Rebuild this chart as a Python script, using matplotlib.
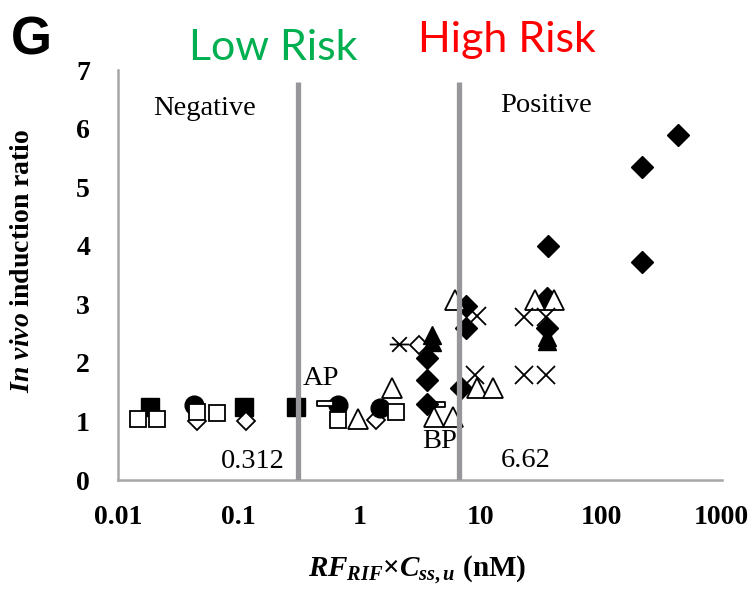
import matplotlib
matplotlib.use("Agg")
import matplotlib.pyplot as plt
from matplotlib.path import Path
from matplotlib.ticker import FixedLocator, FixedFormatter, NullLocator

plt.rcParams['font.family'] = 'Liberation Serif'
plt.rcParams['mathtext.fontset'] = 'custom'
plt.rcParams['mathtext.it'] = 'Liberation Serif:italic:bold'
plt.rcParams['mathtext.rm'] = 'Liberation Serif:bold'
plt.rcParams['mathtext.bf'] = 'Liberation Serif:bold'

# data: RF_RIF x Css,u (nM) vs in vivo induction ratio
open_sq_x = [0.0146, 0.021, 0.045, 0.066, 0.66, 2.02]
open_sq_y = [1.04, 1.04, 1.16, 1.14, 1.02, 1.16]

filled_sq_x = [0.0184, 0.11, 0.30]
filled_sq_y = [1.24, 1.24, 1.24]

filled_circ_x = [0.043, 0.66, 1.47]
filled_circ_y = [1.28, 1.28, 1.23]

open_dia_x = [0.045, 0.116, 1.38, 3.13]
open_dia_y = [1.0, 1.0, 1.02, 2.3]

open_tri_x = [0.98, 1.87, 4.17, 5.98, 6.2, 9.44, 12.8, 28.5, 40.9]
open_tri_y = [1.05, 1.57, 1.07, 1.07, 3.07, 1.58, 1.58, 3.07, 3.07]

filled_tri_x = [4.0, 4.0, 36.0, 36.0]
filled_tri_y = [2.47, 2.35, 2.45, 2.37]

filled_dia_x = [3.65, 3.65, 3.65, 7.65, 7.65, 7.0, 35.8, 36.0, 36.5, 218, 218, 433]
filled_dia_y = [2.09, 1.70, 1.30, 2.98, 2.60, 1.58, 3.10, 2.60, 4.0, 3.72, 5.35, 5.9]

cross_x = [9.4, 9.1, 23.1, 35.0, 23.1, 35.0]
cross_y = [2.80, 1.79, 2.79, 2.79, 1.79, 1.79]

star_x = [2.14]
star_y = [2.32]

dash_x = [0.52, 4.35]
dash_y = [1.31, 1.29]

cutoffs = [0.312, 6.62]
xticks = [0.01, 0.1, 1, 10, 100, 1000]
xtick_labels = ['0.01', '0.1', '1', '10', '100', '1000']
yticks = [0, 1, 2, 3, 4, 5, 6, 7]

star_marker = Path([(-1, 0), (1, 0), (-0.75, -0.75), (0.75, 0.75), (-0.75, 0.75), (0.75, -0.75)],
                   [Path.MOVETO, Path.LINETO, Path.MOVETO, Path.LINETO, Path.MOVETO, Path.LINETO])
dash_marker = Path([(-1, -0.3), (1, -0.3), (1, 0.3), (-1, 0.3), (-1, -0.3)],
                   [Path.MOVETO, Path.LINETO, Path.LINETO, Path.LINETO, Path.CLOSEPOLY])

fig = plt.figure(figsize=(7.55, 5.89), dpi=100)
ax = fig.add_axes([0.156, 0.185, 0.80, 0.696])

k = dict(linestyle='none', markeredgecolor='black')
ax.plot(filled_sq_x, filled_sq_y, marker='s', ms=13, mfc='black', mew=1, **k)
ax.plot(open_dia_x, open_dia_y, marker='D', ms=9.5, mfc='white', mew=1.3, **k)
ax.plot(filled_circ_x, filled_circ_y, marker='o', ms=13.5, mfc='black', mew=1, **k)
ax.plot(open_sq_x, open_sq_y, marker='s', ms=11.5, mfc='white', mew=1.3, **k)
ax.plot(dash_x, dash_y, marker=dash_marker, ms=12, mfc='white', mew=1.3, **k)
ax.plot(filled_dia_x, filled_dia_y, marker='D', ms=11.5, mfc='black', mew=1, **k)
ax.plot(open_tri_x, open_tri_y, marker='^', ms=14, mfc='white', mew=1.3, **k)
ax.plot(filled_tri_x, filled_tri_y, marker='^', ms=13, mfc='black', mew=1, **k)
ax.plot(cross_x, cross_y, marker='x', ms=13, mew=1.3, **k)
ax.plot(star_x, star_y, marker=star_marker, ms=14, mew=1.3, **k)

for c in cutoffs:
    ax.plot([c, c], [0, 6.8], color='#97979b', lw=3.8, zorder=5, solid_capstyle='butt')

ax.set_xscale('log')
ax.set_xlim(0.01, 1000)
ax.set_ylim(0, 7)
ax.xaxis.set_major_locator(FixedLocator(xticks))
ax.xaxis.set_major_formatter(FixedFormatter(xtick_labels))
ax.xaxis.set_minor_locator(NullLocator())
ax.set_yticks(yticks)
ax.tick_params(axis='both', length=0, labelsize=20)
ax.tick_params(axis='x', pad=18)
ax.tick_params(axis='y', pad=20)
for lab in ax.get_xticklabels() + ax.get_yticklabels():
    lab.set_fontweight('bold')

for s in ['top', 'right']:
    ax.spines[s].set_visible(False)
for s in ['left', 'bottom']:
    ax.spines[s].set_color('#a6a6a6')
    ax.spines[s].set_linewidth(1.8)

ax.set_xlabel(r'$RF_{RIF}\mathbf{\times}C_{ss,u}\ \mathrm{(nM)}$', fontsize=21)
ax.xaxis.set_label_coords(0.495, -0.178)
ax.set_ylabel(r'$In\ vivo$ induction ratio', fontsize=20, fontweight='bold')
ax.yaxis.set_label_coords(-0.137, 0.534)

ax.text(0.0524, 6.35, 'Negative', fontsize=20.5, ha='center', va='center')
ax.text(35, 6.4, 'Positive', fontsize=20.5, ha='center', va='center')
ax.text(0.13, 0.31, '0.312', fontsize=20.5, ha='center', va='center')
ax.text(24, 0.34, '6.62', fontsize=20.5, ha='center', va='center')
ax.text(0.485, 1.74, 'AP', fontsize=20.5, ha='center', va='center')
ax.text(4.6, 0.65, 'BP', fontsize=20.5, ha='center', va='center')

fig.text(0.362, 0.918, 'Low Risk', color='#00b050', fontsize=31, family='Lato',
         ha='center', va='center')
fig.text(0.672, 0.932, 'High Risk', color='#ff0000', fontsize=31, family='Lato',
         ha='center', va='center')
fig.text(0.042, 0.932, 'G', fontsize=38, family='Liberation Sans', fontweight='bold',
         ha='center', va='center')

fig.savefig('out.png', dpi=100)
